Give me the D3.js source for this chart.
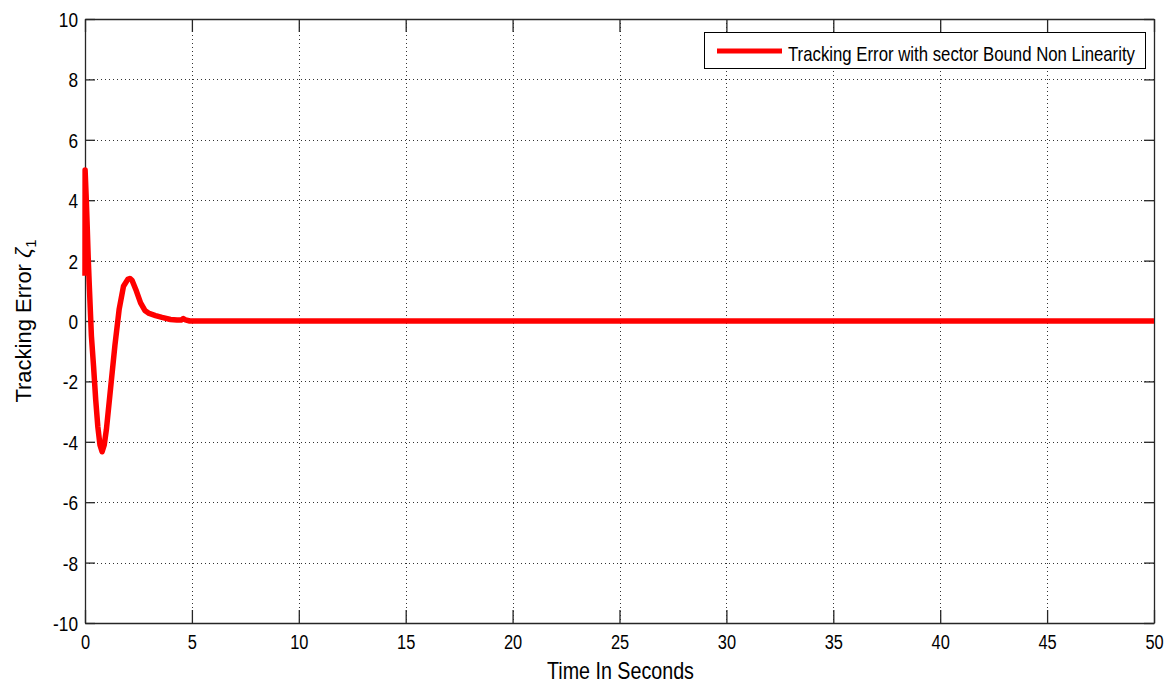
<!DOCTYPE html>
<html>
<head>
<meta charset="utf-8">
<script src="https://cdn.jsdelivr.net/npm/d3@7"></script>
<style>
  html, body { margin: 0; padding: 0; background: #fff; }
  svg { display: block; font-family: "Liberation Sans", Arial, sans-serif; }
</style>
</head>
<body>
<svg id="chart" width="1173" height="686"></svg>
<script>
// Tracking error response over time
const timeSec = [0, 0.005, 0.05, 0.1, 0.15, 0.2, 0.3, 0.4, 0.5, 0.6, 0.7, 0.8, 0.9, 1.0, 1.2, 1.4, 1.6, 1.8, 2.0, 2.1, 2.2, 2.4, 2.6, 2.8, 3.0, 3.3, 3.6, 4.0, 4.3, 4.5, 4.6, 4.7, 4.9, 50];
const trackingError = [1.5, 5.0, 4.2, 3.2, 2.1, 1.2, -0.5, -1.5, -2.6, -3.5, -4.1, -4.33, -4.1, -3.6, -2.2, -0.8, 0.4, 1.15, 1.38, 1.41, 1.35, 1.0, 0.6, 0.35, 0.25, 0.18, 0.12, 0.05, 0.03, 0.03, 0.08, 0.04, 0.0, 0.0];

const xTicks = [0, 5, 10, 15, 20, 25, 30, 35, 40, 45, 50];
const yTicks = [-10, -8, -6, -4, -2, 0, 2, 4, 6, 8, 10];
const seriesName = "Tracking Error with sector Bound Non Linearity";

const svg = d3.select("#chart");
const plotLeft = 85, plotRight = 1154, plotTop = 19, plotBottom = 623;

const x = d3.scaleLinear().domain([0, 50]).range([plotLeft, plotRight]);
const y = d3.scaleLinear().domain([-10, 10]).range([plotBottom, plotTop]);

const axisColor = "#262626";

// narrow the glyphs horizontally, like the condensed screen font of the plot
function squeeze(sel, f) {
  sel.each(function () {
    const w = this.getComputedTextLength();
    d3.select(this).attr("textLength", w * f).attr("lengthAdjust", "spacingAndGlyphs");
  });
}

// dotted grid
const grid = svg.append("g").attr("stroke", "#333").attr("stroke-width", 1)
  .attr("stroke-dasharray", "1,3").attr("shape-rendering", "crispEdges");
grid.selectAll("line.gx").data(xTicks.slice(1, -1)).join("line")
  .attr("x1", d => Math.round(x(d)) + 0.5).attr("x2", d => Math.round(x(d)) + 0.5)
  .attr("y1", plotTop).attr("y2", plotBottom);
grid.selectAll("line.gy").data(yTicks.slice(1, -1)).join("line")
  .attr("x1", plotLeft).attr("x2", plotRight)
  .attr("y1", d => Math.round(y(d)) + 0.5).attr("y2", d => Math.round(y(d)) + 0.5);

// axes with inward ticks on all four sides
function styleAxis(g) {
  g.selectAll("path.domain").attr("stroke", axisColor).attr("stroke-width", 1.3);
  g.selectAll(".tick line").attr("stroke", axisColor).attr("stroke-width", 1.3);
}
const gx = svg.append("g").attr("transform", `translate(0,${plotBottom})`)
  .call(d3.axisBottom(x).tickValues(xTicks).tickSizeInner(-13).tickSizeOuter(0).tickPadding(0).tickFormat(d3.format("d")));
const gxTop = svg.append("g").attr("transform", `translate(0,${plotTop})`)
  .call(d3.axisTop(x).tickValues(xTicks).tickSizeInner(-13).tickSizeOuter(0).tickFormat(""));
const gy = svg.append("g").attr("transform", `translate(${plotLeft},0)`)
  .call(d3.axisLeft(y).tickValues(yTicks).tickSizeInner(-10).tickSizeOuter(0).tickPadding(7).tickFormat(d3.format("d")));
const gyRight = svg.append("g").attr("transform", `translate(${plotRight},0)`)
  .call(d3.axisRight(y).tickValues(yTicks).tickSizeInner(-10).tickSizeOuter(0).tickFormat(""));
[gx, gxTop, gy, gyRight].forEach(styleAxis);
[gxTop, gyRight].forEach(g => g.selectAll("text").remove());

gx.selectAll(".tick text")
  .attr("font-family", "Liberation Sans, Arial, sans-serif")
  .attr("font-size", 20).attr("fill", "#000")
  .attr("y", 26).attr("dy", null);
squeeze(gx.selectAll(".tick text"), 0.82);

gy.selectAll(".tick text")
  .text(d => d < 0 ? "-" + Math.abs(d) : d)
  .attr("font-family", "Liberation Sans, Arial, sans-serif")
  .attr("font-size", 21).attr("fill", "#000")
  .attr("dy", "0.36em");
squeeze(gy.selectAll(".tick text"), 0.82);

// data line
const line = d3.line().x((d, i) => x(timeSec[i])).y(d => y(d));
svg.append("path").datum(trackingError)
  .attr("fill", "none").attr("stroke", "#ff0000").attr("stroke-width", 5.5)
  .attr("stroke-linejoin", "round").attr("d", line);

// axis titles
const xl = svg.append("text").attr("x", (plotLeft + plotRight) / 2 + 1).attr("y", 679)
  .attr("text-anchor", "middle").attr("font-size", 24).attr("fill", "#000")
  .text("Time In Seconds");
squeeze(xl, 0.82);

const yl = svg.append("text")
  .attr("transform", `translate(31,${(plotTop + plotBottom) / 2}) rotate(-90)`)
  .attr("text-anchor", "middle").attr("font-size", 22).attr("fill", "#000");
yl.append("tspan").text("Tracking Error ");
yl.append("tspan").attr("font-style", "italic").text("ζ");
yl.append("tspan").attr("font-size", 15).attr("dy", 5).text("1");

// legend
const lg = svg.append("g");
lg.append("rect").attr("x", 704.5).attr("y", 32.5).attr("width", 441).attr("height", 36)
  .attr("fill", "#fff").attr("stroke", "#000").attr("stroke-width", 1);
lg.append("line").attr("x1", 717).attr("x2", 782).attr("y1", 51).attr("y2", 51)
  .attr("stroke", "#ff0000").attr("stroke-width", 5);
const lt = lg.append("text").attr("font-size", 21).attr("fill", "#000").text(seriesName);
const ltw = lt.node().getComputedTextLength();
lt.attr("transform", `translate(788,61) scale(${347 / ltw},1)`);
</script>
</body>
</html>
